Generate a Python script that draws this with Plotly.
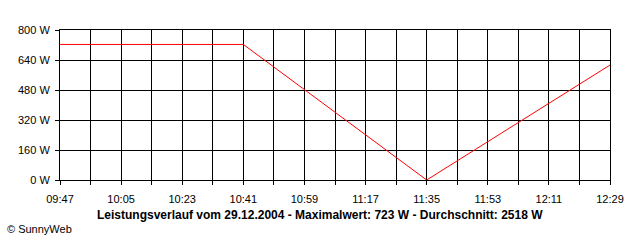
import plotly.graph_objects as go

times = ["2004-12-29 09:47", "2004-12-29 10:41", "2004-12-29 11:35", "2004-12-29 12:29"]
watts = [723, 723, 0, 613]
y_ticks = [0, 160, 320, 480, 640, 800]
y_labels = [f"{v} W" for v in y_ticks]
title_text = "Leistungsverlauf vom 29.12.2004 - Maximalwert: 723 W - Durchschnitt: 2518 W"
copyright_text = "© SunnyWeb"

FONT = "Liberation Sans, Arial, sans-serif"

fig = go.Figure()
fig.add_trace(go.Scatter(x=times, y=watts, mode="lines",
                         line=dict(color="#ff0000", width=1), hoverinfo="skip"))

fig.update_layout(
    width=640, height=240,
    margin=dict(l=60, r=30, t=30, b=60),
    paper_bgcolor="white", plot_bgcolor="white",
    showlegend=False,
    font=dict(family=FONT, size=11, color="black"),
)
fig.update_xaxes(
    type="date",
    range=[times[0], times[-1]],
    tick0=times[0], dtick=18 * 60 * 1000,
    tickformat="%H:%M",
    showgrid=True, gridcolor="black", gridwidth=1,
    ticks="outside", ticklen=4, tickcolor="black", tickwidth=1,
    ticklabelstandoff=5,
    minor=dict(dtick=9 * 60 * 1000, tick0=times[0], showgrid=True,
               gridcolor="black", gridwidth=1, ticks="outside", ticklen=4,
               tickcolor="black"),
    showline=True, linecolor="black", linewidth=1, mirror=True,
    zeroline=False,
    tickfont=dict(family=FONT, size=11, color="black"),
)
fig.update_yaxes(
    range=[0, 800],
    tickvals=y_ticks, ticktext=y_labels,
    showgrid=True, gridcolor="black", gridwidth=1,
    ticks="outside", ticklen=4, tickcolor="black", tickwidth=1,
    ticklabelstandoff=3,
    showline=True, linecolor="black", linewidth=1, mirror=True,
    zeroline=False,
    tickfont=dict(family=FONT, size=11, color="black"),
)
fig.add_annotation(text=f"<b>{title_text}</b>", xref="paper", yref="paper",
                   x=0.4727, y=-0.2333, xanchor="center", yanchor="middle",
                   showarrow=False, font=dict(family=FONT, size=12, color="black"))
fig.add_annotation(text=copyright_text, xref="paper", yref="paper",
                   x=-0.1, y=-0.3267, xanchor="left", yanchor="middle",
                   showarrow=False, font=dict(family=FONT, size=11, color="black"))

fig.write_html("out.html")
